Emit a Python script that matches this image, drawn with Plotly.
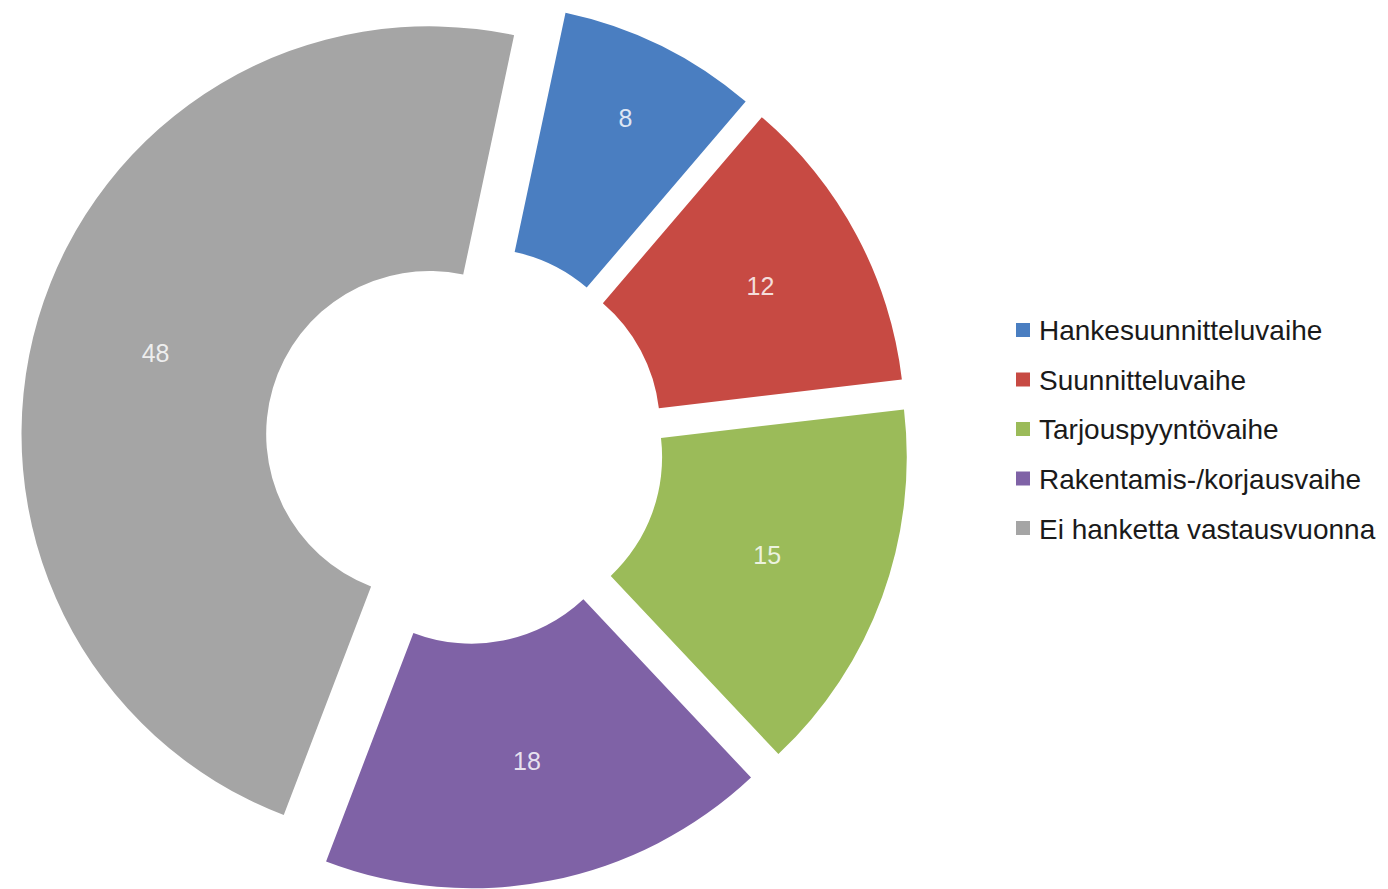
import plotly.graph_objects as go

# Project phase distribution
labels = [
    "Hankesuunnitteluvaihe",
    "Suunnitteluvaihe",
    "Tarjouspyyntövaihe",
    "Rakentamis-/korjausvaihe",
    "Ei hanketta vastausvuonna",
]
values = [8, 12, 15, 18, 48]
colors = ["#4A7EC1", "#C74A43", "#9BBB59", "#7F62A6", "#A5A5A5"]

W, H = 1388, 889

fig = go.Figure(
    go.Pie(
        labels=labels,
        values=values,
        sort=False,
        direction="clockwise",
        rotation=12,
        hole=0.4,
        pull=[0.09] * len(values),
        marker=dict(colors=colors, line=dict(width=0)),
        textinfo="value",
        textposition="inside",
        insidetextorientation="horizontal",
        textfont=dict(family="Liberation Sans, Arial, sans-serif", size=25,
                      color="rgba(255,255,255,0.82)"),
        domain=dict(x=[20 / W, 909 / W], y=[0, 1]),
        showlegend=False,
        hoverinfo="label+value",
    )
)

# Legend drawn as a column of colour keys with labels
shapes = []
annotations = []
top, step, box = 330, 49.5, 14
for i, (lab, col) in enumerate(zip(labels, colors)):
    yc = top + step * i
    shapes.append(dict(
        type="rect", xref="paper", yref="paper",
        x0=1016 / W, x1=(1016 + box) / W,
        y0=1 - (yc + box / 2) / H, y1=1 - (yc - box / 2) / H,
        fillcolor=col, line=dict(width=0),
    ))
    annotations.append(dict(
        text=lab, xref="paper", yref="paper",
        x=1037 / W, y=1 - (yc + 1) / H,
        xanchor="left", yanchor="middle", showarrow=False,
        font=dict(family="Liberation Sans, Arial, sans-serif", size=28, color="#1A1A1A"),
    ))

fig.update_layout(
    width=W, height=H,
    margin=dict(l=0, r=0, t=0, b=0),
    paper_bgcolor="white",
    plot_bgcolor="white",
    shapes=shapes,
    annotations=annotations,
)

fig.write_html("out.html")
